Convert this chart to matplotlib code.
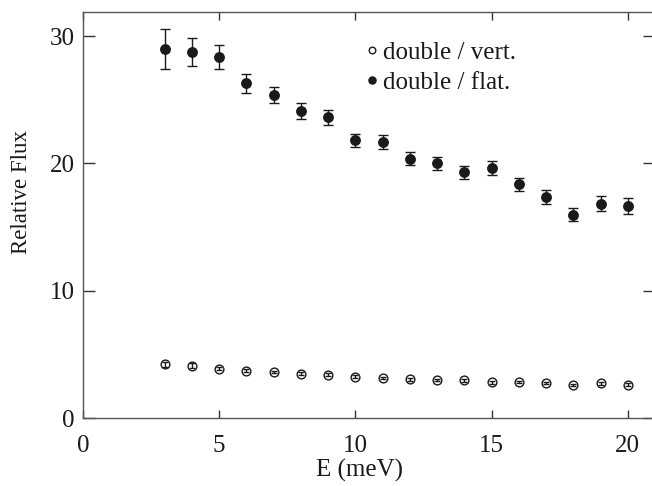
import matplotlib
matplotlib.use("Agg")
import matplotlib.pyplot as plt

energy = [3, 4, 5, 6, 7, 8, 9, 10, 11, 12, 13, 14, 15, 16, 17, 18, 19, 20]
flat_flux = [28.96, 28.78, 28.38, 26.3, 25.37, 24.12, 23.62, 21.81, 21.71, 20.37,
             20.03, 19.3, 19.66, 18.36, 17.39, 15.97, 16.84, 16.68]
flat_err = [1.57, 1.1, 0.93, 0.73, 0.64, 0.6, 0.58, 0.52, 0.55, 0.51,
            0.51, 0.5, 0.55, 0.52, 0.55, 0.52, 0.59, 0.63]
vert_flux = [4.21, 4.11, 3.88, 3.72, 3.61, 3.48, 3.40, 3.25, 3.14, 3.04,
             2.99, 2.96, 2.80, 2.83, 2.75, 2.59, 2.72, 2.62]
vert_err = [0.2, 0.18, 0.12, 0.1, 0.1, 0.1, 0.1, 0.1, 0.1, 0.1,
            0.1, 0.1, 0.1, 0.1, 0.1, 0.1, 0.1, 0.1]
x_ticks = [0, 5, 10, 15, 20]
y_ticks = [0, 10, 20, 30]

plt.rcParams['font.family'] = ['Liberation Serif', 'DejaVu Serif']
plt.rcParams['mathtext.fontset'] = 'stix'

fig = plt.figure(figsize=(6.52, 4.86), dpi=100)
ax = fig.add_axes([83 / 652, (486 - 418) / 486, (655 - 83) / 652, (418 - 12) / 486])

dark = '#1a1a1a'
ax.errorbar(energy, flat_flux, yerr=flat_err, fmt='none', ecolor=dark,
            elinewidth=1.0, capsize=3.5, capthick=1.0, zorder=2)
ax.errorbar(energy, vert_flux, yerr=vert_err, fmt='none', ecolor=dark,
            elinewidth=1.0, capsize=2.5, capthick=1.0, zorder=2)
ax.plot(energy, vert_flux, linestyle='none', marker='o', markersize=6.3,
        markerfacecolor='none', markeredgecolor=dark, markeredgewidth=1.0,
        label='double / vert.', zorder=3)
ax.plot(energy, flat_flux, linestyle='none', marker='o', markersize=6.8,
        markerfacecolor=dark, markeredgecolor=dark, label='double / flat.', zorder=3)

ax.set_xlim(0, 21)
ax.set_ylim(0, 31.9)
ax.set_xticks(x_ticks)
ax.set_yticks(y_ticks)
ax.tick_params(axis='both', which='major', direction='in', labelsize=18,
               colors='#333333', labelcolor='#1a1a1a', width=1.0)
ax.tick_params(axis='x', length=5.5, top=True, pad=12.5)
ax.tick_params(axis='y', length=8.5, right=True, pad=6)
for s in ax.spines.values():
    s.set_color('#555555')
    s.set_linewidth(1.0)

ax.set_xlabel('E (meV)', fontsize=18, color='#1a1a1a', va='top')
ax.xaxis.set_label_coords(0.483, -0.1)
ax.set_ylabel('Relative Flux', fontsize=16.5, color='#1a1a1a')
ax.yaxis.set_label_coords(-0.09, 0.556)

leg = ax.legend(loc='upper left', bbox_to_anchor=(0.463, 0.97), frameon=False,
                fontsize=18, handlelength=0.5, handletextpad=0.2,
                markerscale=0.75, labelspacing=0.3, borderpad=0.2)
for t in leg.get_texts():
    t.set_color('#1a1a1a')

fig.savefig('out.png', dpi=100)
